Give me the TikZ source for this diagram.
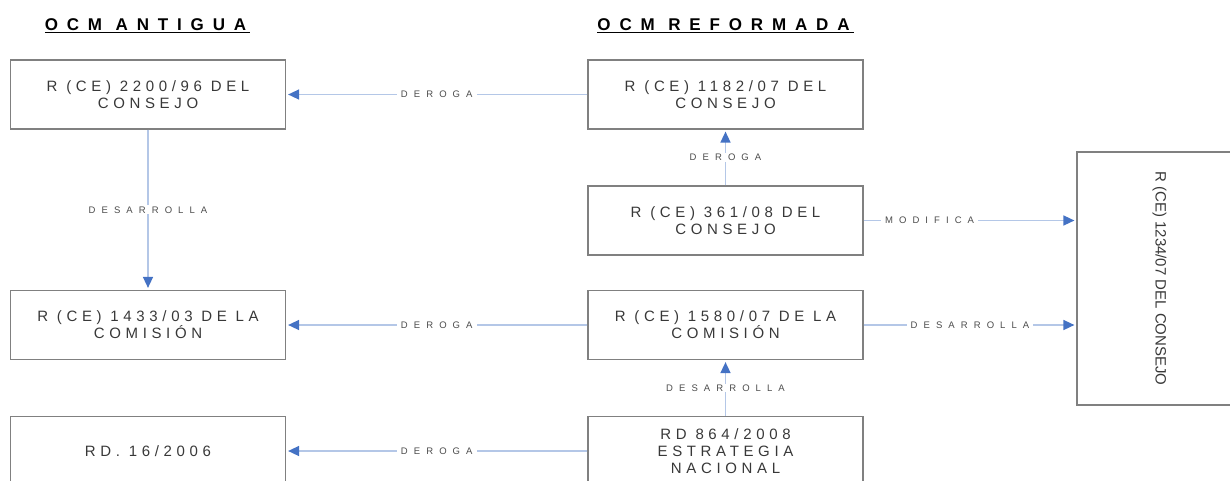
\documentclass[tikz,border=0pt]{standalone}
\usepackage{fontspec}
\usepackage{graphicx}
\setmainfont{Liberation Sans}
\newfontfamily\boxfont[LetterSpace=31]{Liberation Sans}
\newfontfamily\linkfont[LetterSpace=64]{Liberation Sans}
\newfontfamily\titlefont[LetterSpace=52]{Liberation Sans}
\usetikzlibrary{arrows.meta, positioning, calc}
\definecolor{linkblue}{HTML}{B4C7E7}
\definecolor{tipblue}{HTML}{4472C4}
\definecolor{boxgray}{HTML}{808080}
\definecolor{textgray}{HTML}{383838}

\begin{document}
\begin{tikzpicture}[
    x=1pt, y=-1pt,
    >={Triangle[length=11pt, width=10pt, color=tipblue]},
    norma/.style={draw=boxgray, line width=1.2pt, minimum width=275pt, minimum height=69pt, align=center, text=textgray, font=\fontsize{15}{17}\boxfont, inner sep=0pt},
    titulo/.style={font=\fontsize{17}{19}\titlefont\bfseries, text=black},
    link/.style={->, draw=linkblue, line width=1.5pt, shorten >=2pt},
    etiqueta/.style={fill=white, text=black!70, font=\fontsize{9.5}{10}\linkfont, inner xsep=4pt, inner ysep=1pt}
  ]
    \useasboundingbox (0,0) rectangle (1230,480);
    % titulos
    \node[titulo] (antigua) at (147.5,26) {\underline{OCM ANTIGUA\hspace{4pt}}};
    \node[titulo] (reformada) at (725.5,26) {\underline{OCM REFORMADA\hspace{4pt}}};
    % OCM antigua
    \node[norma] (r2200) at (148,94.5) {R (CE) 2200/96 DEL\\CONSEJO};
    \node[norma] (r1433) at (148,325) {R (CE) 1433/03 DE LA\\COMISIÓN};
    \node[norma] (rd16) at (148,451) {RD. 16/2006};
    % OCM reformada
    \node[norma] (r1182) at (725.5,94.5) {R (CE) 1182/07 DEL\\CONSEJO};
    \node[norma] (r361) at (725.5,220.5) {R (CE) 361/08 DEL\\CONSEJO};
    \node[norma] (r1580) at (725.5,325) {R (CE) 1580/07 DE LA\\COMISIÓN};
    \node[norma] (rd864) at (725.5,451) {RD 864/2008\\ESTRATEGIA\\NACIONAL};
    \node[draw=boxgray, line width=1.2pt, minimum width=165pt, minimum height=253pt, inner sep=0pt, text=textgray, font=\fontsize{15}{17}\selectfont] (r1234) at (1159.5,278.5) {\rotatebox{-90}{R (CE) 1234/07 DEL CONSEJO}};
    % relaciones
    \draw[link] (r1182) -- node[etiqueta] {DEROGA} (r2200);
    \draw[link] (r2200) -- node[etiqueta] {DESARROLLA} (r1433);
    \draw[link] (r361) -- node[etiqueta] {DEROGA} (r1182);
    \draw[link] (r361.east) -- node[etiqueta, pos=0.31] {MODIFICA} (r361.east -| r1234.west);
    \draw[link] (r1580) -- node[etiqueta] {DEROGA} (r1433);
    \draw[link] (r1580.east) -- node[etiqueta] {DESARROLLA} (r1580.east -| r1234.west);
    \draw[link] (rd864) -- node[etiqueta] {DESARROLLA} (r1580);
    \draw[link] (rd864) -- node[etiqueta] {DEROGA} (rd16);
  \end{tikzpicture}
\end{document}
